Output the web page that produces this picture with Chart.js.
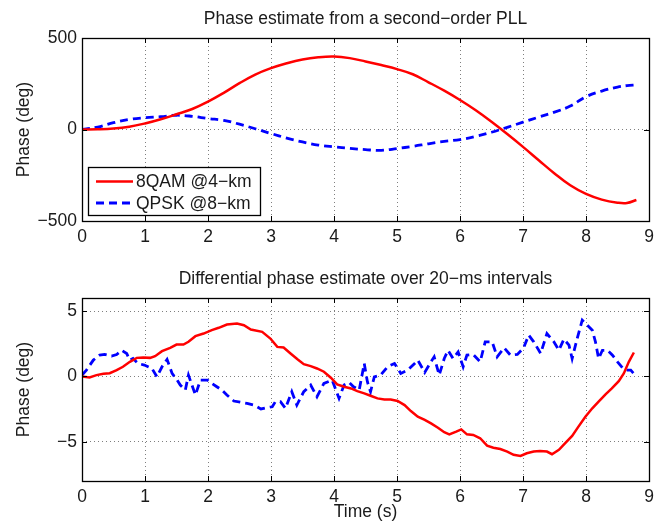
<!DOCTYPE html>
<html>
<head>
<meta charset="utf-8">
<script src="https://cdn.jsdelivr.net/npm/chart.js@4.4.0/dist/chart.umd.min.js"></script>
<style>
  body { margin: 0; background: #fff; }
  canvas { display: block; }
</style>
</head>
<body>
<canvas id="pllChart" width="662" height="262"></canvas>
<canvas id="diffChart" width="662" height="261"></canvas>
<script>
// ---- top panel: PLL phase (deg), roughly every 0.25 s ----
const tPll = [0, 0.25, 0.5, 0.75, 1, 1.25, 1.5, 1.75, 2, 2.25,
  2.5, 2.75, 3, 3.25, 3.5, 3.75, 4, 4.25, 4.5, 4.75,
  5, 5.25, 5.5, 5.75, 6, 6.25, 6.5, 6.75, 7, 7.25,
  7.5, 7.75, 8, 8.25, 8.5, 8.65, 8.8];
const pll8qam = [0, 1, 5, 15, 33, 56, 83, 112, 152, 200,
  253, 300, 335, 362, 383, 395, 399, 390, 372, 352,
  330, 302, 258, 212, 161, 105, 42, -25, -95, -168,
  -240, -305, -352, -383, -400, -402, -385];
const pllQpsk = [0, 13, 37, 55, 64, 70, 78, 72, 60, 50,
  29, 4, -22, -47, -68, -85, -95, -103, -110, -114,
  -104, -92, -78, -65, -55, -38, -15, 12, 40, 68,
  95, 128, 179, 210, 232, 240, 244];

// ---- bottom panel: differential phase (deg) ----
const tQamDiff = [0, 0.12, 0.23, 0.34, 0.44, 0.55, 0.65, 0.76, 0.87, 0.97,
  1.08, 1.16, 1.27, 1.4, 1.5, 1.61, 1.69, 1.8, 1.93, 2.06,
  2.17, 2.3, 2.46, 2.57, 2.68, 2.86, 2.99, 3.1, 3.2, 3.31,
  3.42, 3.52, 3.63, 3.73, 3.84, 3.95, 4.05, 4.16, 4.27, 4.37,
  4.48, 4.58, 4.69, 4.8, 4.9, 5.01, 5.12, 5.22, 5.33, 5.44,
  5.54, 5.65, 5.75, 5.83, 5.94, 6.02, 6.11, 6.21, 6.32, 6.43,
  6.53, 6.64, 6.75, 6.85, 6.96, 7.06, 7.17, 7.27, 7.38, 7.46,
  7.57, 7.67, 7.78, 7.88, 7.99, 8.1, 8.2, 8.31, 8.41, 8.52,
  8.6, 8.68, 8.76];
const qamDiff = [0, -0.08, 0.1, 0.2, 0.25, 0.48, 0.74, 1.12, 1.42, 1.45,
  1.42, 1.55, 1.93, 2.19, 2.44, 2.44, 2.65, 3.08, 3.28, 3.54,
  3.72, 3.97, 4.05, 3.92, 3.59, 3.41, 2.9, 2.26, 2.21, 1.76,
  1.32, 0.94, 0.79, 0.61, 0.36, -0.1, -0.61, -0.79, -0.92, -1.12,
  -1.3, -1.48, -1.68, -1.76, -1.76, -1.88, -2.19, -2.65, -3.08, -3.33,
  -3.59, -3.92, -4.27, -4.43, -4.22, -4.05, -4.43, -4.48, -4.73, -5.29,
  -5.45, -5.55, -5.75, -6.0, -6.08, -5.88, -5.75, -5.7, -5.75, -5.95,
  -5.62, -5.11, -4.55, -3.84, -3.08, -2.44, -1.93, -1.37, -0.92, -0.36,
  0.23, 1.12, 1.83];

const tQpskDiff = [0, 0.07, 0.18, 0.28, 0.36, 0.47, 0.55, 0.63, 0.71, 0.76,
  0.81, 0.89, 0.99, 1.11, 1.19, 1.27, 1.35, 1.43, 1.51, 1.56,
  1.64, 1.69, 1.8, 1.88, 1.99, 2.06, 2.14, 2.22, 2.3, 2.41,
  2.52, 2.62, 2.73, 2.84, 2.94, 3.02, 3.07, 3.15, 3.23, 3.33,
  3.41, 3.52, 3.63, 3.73, 3.84, 3.97, 4.08, 4.16, 4.24, 4.31,
  4.4, 4.48, 4.53, 4.58, 4.64, 4.74, 4.85, 4.96, 5.06, 5.17,
  5.28, 5.33, 5.44, 5.54, 5.59, 5.67, 5.75, 5.81, 5.89, 5.97,
  6.05, 6.11, 6.21, 6.32, 6.4, 6.51, 6.59, 6.7, 6.8, 6.91,
  7.01, 7.09, 7.17, 7.28, 7.38, 7.49, 7.57, 7.65, 7.73, 7.78,
  7.86, 7.94, 8.02, 8.1, 8.15, 8.2, 8.26, 8.34, 8.42, 8.5,
  8.58, 8.66, 8.71, 8.77];
const qpskDiff = [0.1, 0.48, 1.25, 1.63, 1.68, 1.55, 1.68, 2.0, 1.75, 1.25,
  1.37, 0.99, 0.87, 0.61, -0.03, 0.74, 1.3, 0.23, -0.28, -0.66,
  -1.04, 0.1, -1.42, -0.28, -0.28, -0.53, -0.79, -1.04, -1.42, -1.88,
  -1.98, -2.06, -2.19, -2.49, -2.39, -2.32, -1.93, -1.93, -2.44, -1.17,
  -2.19, -1.17, -0.66, -1.55, -0.53, -0.28, -1.68, -0.66, -0.46, -0.79,
  -1.04, 0.99, -0.41, -1.17, -0.03, 0.1, 0.74, 0.99, 0.23, 0.48,
  0.99, 1.25, 0.31, 1.12, 1.5, 0.1, 1.37, 2.0, 1.37, 1.88,
  0.74, 1.63, 1.68, 1.12, 2.65, 2.65, 1.5, 2.19, 1.63, 1.68,
  2.19, 3.16, 2.65, 1.76, 3.28, 2.65, 2.01, 2.85, 2.39, 1.37,
  2.9, 4.3, 3.92, 3.54, 2.65, 1.37, 2.0, 2.0, 1.63, 1.12,
  0.66, 0.48, 0.48, 0.15];

const timeTicks = [0, 1, 2, 3, 4, 5, 6, 7, 8, 9];
const pllTicks = [-500, 0, 500];
const diffTicks = [-5, 0, 5];
const seriesNames = ['8QAM @4\u2212km', 'QPSK @8\u2212km'];

const FONT = '"Liberation Sans", Arial, Helvetica, sans-serif';
const FS = 17.5;
const INK = '#1a1a1a';

function pts(xs, ys) {
  return xs.map((x, i) => ({ x: x, y: ys[i] }));
}
function minus(v) {
  return String(v).replace('-', '\u2212');
}

// title centred over the plot box, not the whole canvas
const panelTitle = {
  id: 'panelTitle',
  afterDraw(chart, args, opts) {
    const { ctx, chartArea: a } = chart;
    ctx.save();
    ctx.font = FS + 'px ' + FONT;
    ctx.fillStyle = INK;
    ctx.textAlign = 'center';
    ctx.textBaseline = 'middle';
    ctx.fillText(opts.text, (a.left + a.right) / 2, a.top - 19);
    ctx.restore();
  }
};

// black box round the plot with small inward tick marks (matlab style)
const axesFrame = {
  id: 'axesFrame',
  afterDraw(chart) {
    const { ctx, chartArea: a, scales: { x, y } } = chart;
    ctx.save();
    ctx.setLineDash([]);
    ctx.strokeStyle = '#000';
    ctx.lineWidth = 1;
    ctx.beginPath();
    x.ticks.forEach(t => {
      const px = Math.round(x.getPixelForValue(t.value)) + 0.5;
      ctx.moveTo(px, a.bottom); ctx.lineTo(px, a.bottom - 5);
      ctx.moveTo(px, a.top); ctx.lineTo(px, a.top + 5);
    });
    y.ticks.forEach(t => {
      const py = Math.round(y.getPixelForValue(t.value)) + 0.5;
      ctx.moveTo(a.left, py); ctx.lineTo(a.left + 5, py);
      ctx.moveTo(a.right, py); ctx.lineTo(a.right - 5, py);
    });
    ctx.stroke();
    ctx.lineWidth = 1.3;
    ctx.strokeRect(Math.round(a.left) + 0.5, Math.round(a.top) + 0.5,
      Math.round(a.width), Math.round(a.height));
    ctx.restore();
  }
};

// legend box in the lower left corner of the top panel
const cornerLegend = {
  id: 'cornerLegend',
  afterDraw(chart) {
    const { ctx, chartArea: a } = chart;
    const bx = a.left + 6, by = a.bottom - 54, bw = 172, bh = 48;
    ctx.save();
    ctx.fillStyle = '#fff';
    ctx.fillRect(bx, by, bw, bh);
    ctx.strokeStyle = '#000';
    ctx.lineWidth = 1.3;
    ctx.setLineDash([]);
    ctx.strokeRect(bx + 0.5, by + 0.5, bw, bh);
    ctx.font = FS + 'px ' + FONT;
    ctx.textBaseline = 'middle';
    chart.data.datasets.forEach((ds, i) => {
      const ly = by + 14.5 + i * 21.5;
      ctx.strokeStyle = ds.borderColor;
      ctx.lineWidth = ds.borderWidth;
      ctx.setLineDash(ds.borderDash || []);
      ctx.beginPath();
      ctx.moveTo(bx + 8, ly);
      ctx.lineTo(bx + 45, ly);
      ctx.stroke();
      ctx.fillStyle = INK;
      ctx.fillText(ds.label, bx + 48, ly + 1);
    });
    ctx.restore();
  }
};

function baseOptions(title, yTicks, yMin, yMax, topPad, xHeight, xTitle) {
  return {
    responsive: false,
    animation: false,
    layout: { padding: { left: 0, right: 13, top: topPad, bottom: 0 } },
    plugins: {
      legend: { display: false },
      tooltip: { enabled: false },
      title: { display: false },
      panelTitle: { text: title }
    },
    scales: {
      x: {
        type: 'linear',
        min: 0,
        max: 9,
        afterBuildTicks: s => { s.ticks = timeTicks.map(v => ({ value: v })); },
        afterFit: s => { s.height = xHeight; },
        ticks: { color: INK, padding: 6, maxRotation: 0, font: { family: FONT, size: FS } },
        grid: { color: 'rgba(0,0,0,0.5)', lineWidth: 1, drawTicks: false },
        border: { display: false, dash: [1, 3] },
        title: {
          display: !!xTitle,
          text: xTitle,
          color: INK,
          padding: { top: 0, bottom: 0 },
          font: { family: FONT, size: FS }
        }
      },
      y: {
        type: 'linear',
        min: yMin,
        max: yMax,
        afterBuildTicks: s => { s.ticks = yTicks.map(v => ({ value: v })); },
        afterFit: s => { s.width = 82; },
        ticks: { color: INK, padding: 5, font: { family: FONT, size: FS }, callback: v => minus(v) },
        grid: { color: 'rgba(0,0,0,0.5)', lineWidth: 1, drawTicks: false },
        border: { display: false, dash: [1, 3] },
        title: {
          display: true,
          text: 'Phase (deg)',
          color: INK,
          padding: { top: 13.5, bottom: 0 },
          font: { family: FONT, size: FS }
        }
      }
    }
  };
}

function lineSet(label, data, color, dashed, tension) {
  return {
    label: label,
    data: data,
    borderColor: color,
    backgroundColor: color,
    borderWidth: dashed ? 2.8 : 2.5,
    borderDash: dashed ? [8, 5] : [],
    pointRadius: 0,
    tension: tension,
    fill: false
  };
}

new Chart(document.getElementById('pllChart'), {
  type: 'line',
  data: {
    datasets: [
      lineSet(seriesNames[0], pts(tPll, pll8qam), '#ff0000', false, 0.4),
      lineSet(seriesNames[1], pts(tPll, pllQpsk), '#0000ff', true, 0.4)
    ]
  },
  options: baseOptions('Phase estimate from a second\u2212order PLL', pllTicks, -500, 500, 38, 41, ''),
  plugins: [axesFrame, cornerLegend, panelTitle]
});

new Chart(document.getElementById('diffChart'), {
  type: 'line',
  data: {
    datasets: [
      lineSet(seriesNames[0], pts(tQamDiff, qamDiff), '#ff0000', false, 0),
      lineSet(seriesNames[1], pts(tQpskDiff, qpskDiff), '#0000ff', true, 0)
    ]
  },
  options: baseOptions('Differential phase estimate over 20\u2212ms intervals', diffTicks, -8, 6, 36, 42, 'Time (s)'),
  plugins: [axesFrame, panelTitle]
});
</script>
</body>
</html>
